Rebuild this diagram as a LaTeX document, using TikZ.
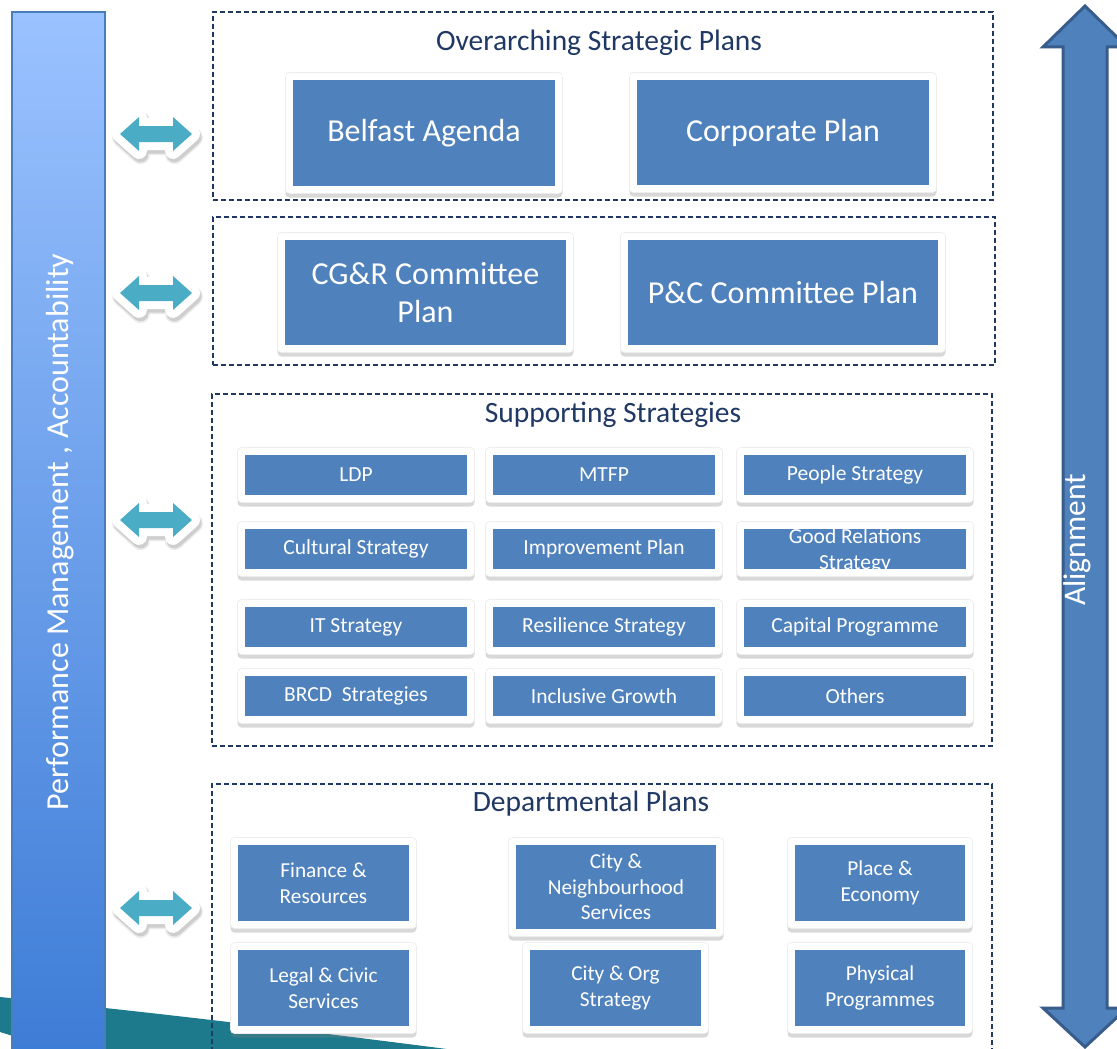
\documentclass[tikz,border=0pt]{standalone}
\usepackage{fontspec}
\setmainfont{Carlito}
\usetikzlibrary{shadows}
\definecolor{boxblue}{HTML}{4F81BD}
\definecolor{navy}{HTML}{1F3864}
\definecolor{arrowteal}{HTML}{4BACC6}
\definecolor{swoosh}{HTML}{1C7A8C}
\definecolor{bartop}{HTML}{9AC2FF}
\definecolor{barbot}{HTML}{3D7CD6}
\definecolor{barline}{HTML}{4A7EBB}
\definecolor{bigarrowline}{HTML}{385D8A}
\tikzset{
  outerbox/.style={fill=white, draw=black!7, line width=0.6pt, rounded corners=4pt, inner sep=0pt,
    drop shadow={shadow xshift=0pt, shadow yshift=-4pt, opacity=0.3, fill=gray}},
  innerbox/.style={fill=boxblue, draw=none, inner sep=0pt, text=white, align=center},
  groupbox/.style={draw=navy, line width=1.4pt, dash pattern=on 5pt off 3pt},
  grouptitle/.style={text=navy, font=\fontsize{29.5}{32}\selectfont},
  bigfont/.style={font=\fontsize{32}{38}\selectfont},
  smallfont/.style={font=\fontsize{21.5}{26}\selectfont},
  deptfont/.style={font=\fontsize{21.3}{25.5}\selectfont},
  tealshadowA/.style={draw=black, fill=black, line width=19pt, line join=round, opacity=0.08},
  tealshadowB/.style={draw=black, fill=black, line width=16pt, line join=round, opacity=0.12},
  tealoutline/.style={draw=white, fill=white, line width=16pt, line join=round},
  tealfill/.style={fill=arrowteal, draw=none},
}
% \planbox{name}{cx}{cy}{w}{h}{style}{text}
\newcommand{\planbox}[7]{%
  \node[outerbox, minimum width=#4pt+15pt, minimum height=#5pt+15pt] (#1-o) at (#2,#3) {};
  \node[innerbox, #6, minimum width=#4pt, minimum height=#5pt] (#1) at (#2,#3) {#7};
}
\newcommand{\twoarrowpath}[1]{(#1) ++(-36,0) -- ++(19,-17) -- ++(0,9) -- ++(34,0) -- ++(0,-9)
    -- ++(19,17) -- ++(-19,17) -- ++(0,-9) -- ++(-34,0) -- ++(0,9) -- cycle}
\newcommand{\twoarrow}[2]{%
  \begin{scope}[shift={(1.5,3.5)}]
    \path[tealshadowA] \twoarrowpath{#2};
    \path[tealshadowB] \twoarrowpath{#2};
  \end{scope}
  \path[tealoutline] \twoarrowpath{#2};
  \path[tealfill] \twoarrowpath{#2};
  \coordinate (#1) at (#2);
}
\begin{document}
\begin{tikzpicture}[x=1pt,y=-1pt]
\useasboundingbox (0,0) rectangle (1117,1049);
\fill[white] (0,0) rectangle (1117,1049);
% bottom swoosh
\fill[swoosh] (0,997) .. controls (150,1012) and (300,1030) .. (470,1052)
  -- (60,1052) .. controls (40,1045) and (20,1038) .. (0,1032) -- cycle;
% left bar
\shade[top color=bartop, bottom color=barbot, draw=barline, line width=1.2pt]
  (12,12) rectangle (105,1060);
\node[rotate=90, text=white, font=\fontsize{32}{34}\selectfont] (perf) at (60,532)
  {Performance Management , Accountability};
% right alignment arrow
\path[fill=boxblue, draw=bigarrowline, line width=3pt, line join=miter]
  (1085,6) -- (1127,47) -- (1107,47) -- (1107,1008) -- (1127,1008) -- (1085,1047)
  -- (1043,1008) -- (1063,1008) -- (1063,47) -- (1043,47) -- cycle;
\node[rotate=90, text=white, font=\fontsize{31.5}{33}\selectfont] (align) at (1077,540) {Alignment};
% group boxes
\node[groupbox, minimum width=780pt, minimum height=188pt, inner sep=0pt] (g1) at (603,106) {};
\node[grouptitle] (t1) at (599,43) {Overarching Strategic Plans};
\node[groupbox, minimum width=782pt, minimum height=148pt, inner sep=0pt] (g2) at (604,291) {};
\node[groupbox, minimum width=780pt, minimum height=352pt, inner sep=0pt] (g3) at (602,570) {};
\node[grouptitle] (t3) at (613,415) {Supporting Strategies};
\draw[groupbox] (212,1060) -- (212,784) -- (992,784) -- (992,1060);
\node[grouptitle] (t4) at (591,804) {Departmental Plans};
% overarching
\planbox{belfast}{424}{133}{262}{106}{bigfont}{Belfast Agenda}
\planbox{corporate}{783}{132.5}{292}{105}{bigfont}{Corporate Plan}
% committee
\planbox{cgr}{425.5}{292.5}{281}{105}{bigfont}{CG\&R Committee\\Plan}
\planbox{pc}{783}{292.5}{310}{105}{bigfont}{P\&C Committee Plan}
% supporting strategies
\planbox{ldp}{356}{475}{222}{40}{smallfont}{LDP}
\planbox{mtfp}{604}{475}{222}{40}{smallfont}{MTFP}
\planbox{people}{855}{475}{222}{40}{smallfont}{People Strategy}
\planbox{cultural}{356}{549}{222}{40}{smallfont}{Cultural Strategy}
\planbox{improve}{604}{549}{222}{40}{smallfont}{Improvement Plan}
\planbox{goodrel}{855}{549}{222}{40}{smallfont}{\raisebox{-7pt}[0pt][0pt]{\begin{tabular}{@{}c@{}}Good Relations\\Strategy\end{tabular}}}
\planbox{it}{356}{627}{222}{40}{smallfont}{IT Strategy}
\planbox{resil}{604}{627}{222}{40}{smallfont}{Resilience Strategy}
\planbox{capital}{855}{627}{222}{40}{smallfont}{Capital Programme}
\planbox{brcd}{356}{696}{222}{40}{smallfont}{BRCD\ \ Strategies}
\planbox{inclusive}{604}{696}{222}{40}{smallfont}{Inclusive Growth}
\planbox{others}{855}{696}{222}{40}{smallfont}{Others}
% departmental
\planbox{finance}{323.5}{883}{171}{76}{deptfont}{Finance \&\\Resources}
\planbox{legal}{323.5}{988}{171}{76}{deptfont}{Legal \& Civic\\Services}
\planbox{cns}{616}{887}{200}{84}{deptfont}{City \&\\Neighbourhood\\Services}
\planbox{corg}{615.5}{988}{171}{76}{deptfont}{City \& Org\\Strategy}
\planbox{place}{880}{883}{170}{76}{deptfont}{Place \&\\Economy}
\planbox{physical}{880}{988}{170}{76}{deptfont}{Physical\\Programmes}
% teal double arrows
\twoarrow{a1}{156,134}
\twoarrow{a2}{156,293}
\twoarrow{a3}{156,520}
\twoarrow{a4}{156,908}
\end{tikzpicture}
\end{document}
